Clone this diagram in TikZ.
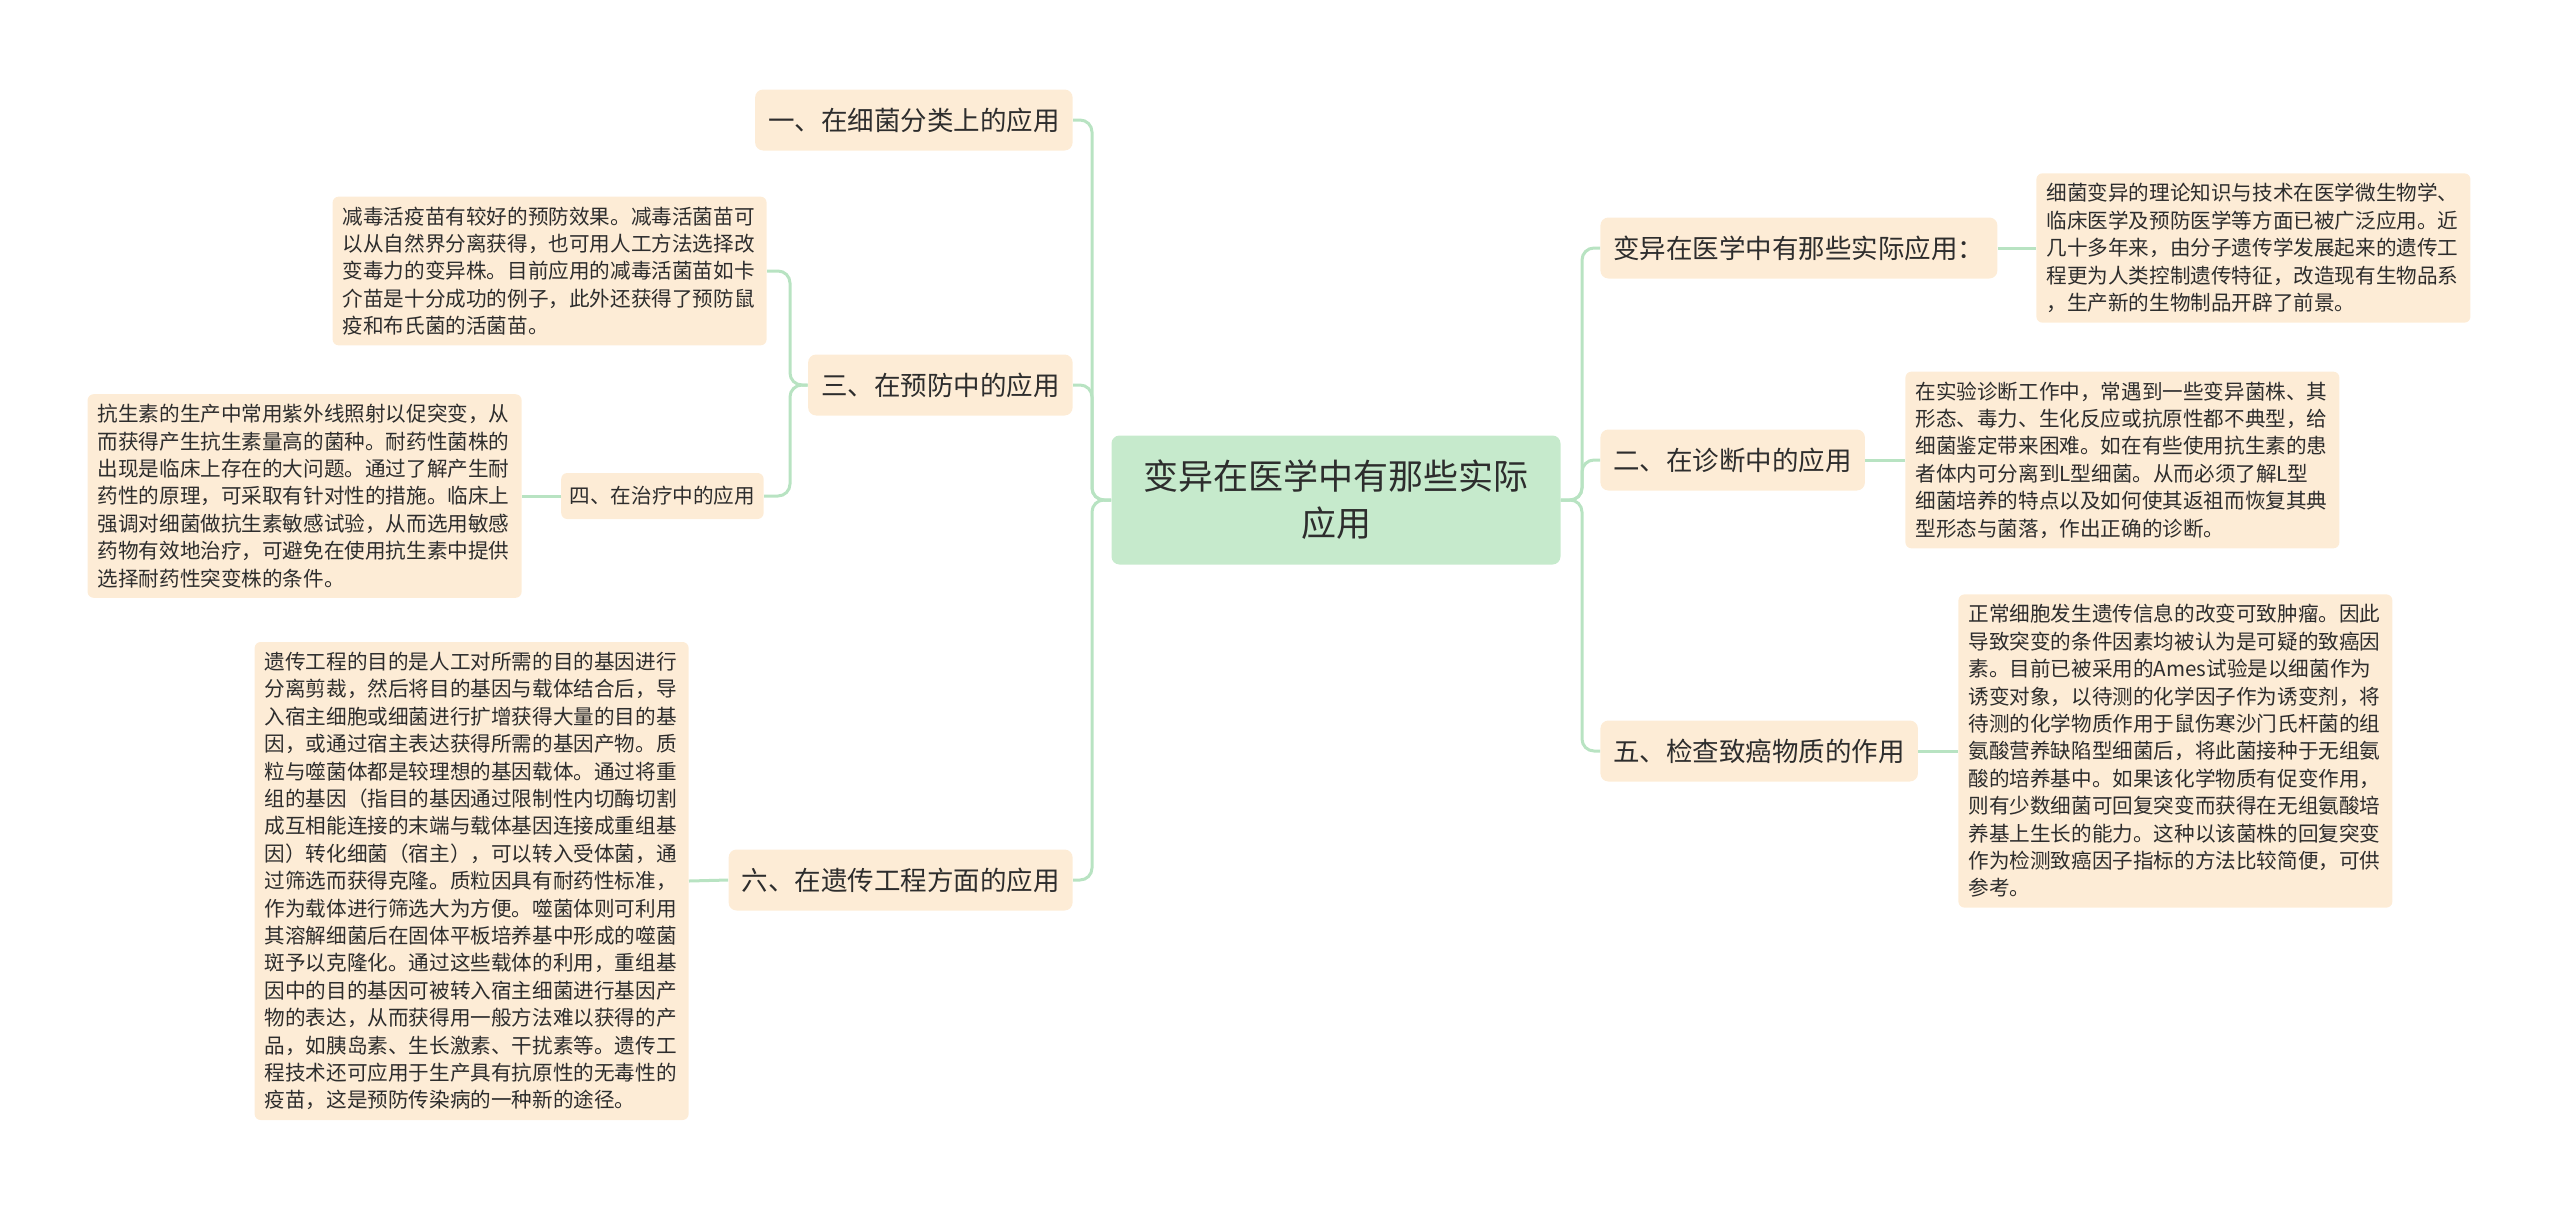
\documentclass[tikz,border=0pt]{standalone}
\usepackage{fontspec}
\setmainfont{Noto Sans CJK SC}
\definecolor{peach}{RGB}{253,236,214}
\definecolor{mint}{RGB}{198,234,204}
\definecolor{linkgreen}{RGB}{184,227,194}
\definecolor{ink}{RGB}{45,45,45}

\begin{document}
\begin{tikzpicture}[x=0.5pt,y=-0.5pt,
    link/.style={line width=1.5pt,linkgreen,rounded corners=6pt},
    root/.style={fill=mint,rounded corners=4pt,text=ink,align=center,font=\fontsize{17.5}{23.5}\selectfont,minimum width=224.5pt,minimum height=64.5pt},
    topic/.style={fill=peach,rounded corners=4pt,text=ink,font=\fontsize{13.25}{16}\selectfont,inner xsep=6.5pt,minimum height=30.5pt},
    subtopic/.style={fill=peach,rounded corners=3pt,text=ink,font=\fontsize{10.3}{13.7}\selectfont,inner xsep=4.25pt,minimum height=23pt},
    leaf/.style={fill=peach,rounded corners=3pt,text=ink,align=left,text width=207pt,font=\fontsize{10.3}{13.7}\selectfont,inner xsep=5pt,inner ysep=5pt}]
    \path[use as bounding box] (0,0) rectangle (2560,1206);

    \node[root] (cen) at (1336,500) {变异在医学中有那些实际\\应用};
    \coordinate (ltrunk) at (1092,500);
    \coordinate (rtrunk) at (1582,500);

    % right side
    \node[topic,anchor=west] (r1) at (1600,248) {变异在医学中有那些实际应用：};
    \node[leaf,anchor=west] (r1leaf) at (2036,248) {细菌变异的理论知识与技术在医学微生物学、\\临床医学及预防医学等方面已被广泛应用。近\\几十多年来，由分子遗传学发展起来的遗传工\\程更为人类控制遗传特征，改造现有生物品系\\，生产新的生物制品开辟了前景。};
    \node[topic,anchor=west] (r2) at (1600,460) {二、在诊断中的应用};
    \node[leaf,anchor=west] (r2leaf) at (1905,460) {在实验诊断工作中，常遇到一些变异菌株、其\\形态、毒力、生化反应或抗原性都不典型，给\\细菌鉴定带来困难。如在有些使用抗生素的患\\者体内可分离到L型细菌。从而必须了解L型\\细菌培养的特点以及如何使其返祖而恢复其典\\型形态与菌落，作出正确的诊断。};
    \node[topic,anchor=west] (r5) at (1600,751) {五、检查致癌物质的作用};
    \node[leaf,anchor=west] (r5leaf) at (1958,751) {正常细胞发生遗传信息的改变可致肿瘤。因此\\导致突变的条件因素均被认为是可疑的致癌因\\素。目前已被采用的Ames试验是以细菌作为\\诱变对象，以待测的化学因子作为诱变剂，将\\待测的化学物质作用于鼠伤寒沙门氏杆菌的组\\氨酸营养缺陷型细菌后，将此菌接种于无组氨\\酸的培养基中。如果该化学物质有促变作用，\\则有少数细菌可回复突变而获得在无组氨酸培\\养基上生长的能力。这种以该菌株的回复突变\\作为检测致癌因子指标的方法比较简便，可供\\参考。};

    % left side
    \node[topic,anchor=east] (l1) at (1073,120) {一、在细菌分类上的应用};
    \node[topic,anchor=east] (l3) at (1073,385) {三、在预防中的应用};
    \coordinate (l3trunk) at (790,385);
    \node[leaf,anchor=east] (l3leaf) at (767,271) {减毒活疫苗有较好的预防效果。减毒活菌苗可\\以从自然界分离获得，也可用人工方法选择改\\变毒力的变异株。目前应用的减毒活菌苗如卡\\介苗是十分成功的例子，此外还获得了预防鼠\\疫和布氏菌的活菌苗。};
    \node[subtopic,anchor=east] (l4) at (764,496) {四、在治疗中的应用};
    \node[leaf,anchor=east] (l4leaf) at (522,496) {抗生素的生产中常用紫外线照射以促突变，从\\而获得产生抗生素量高的菌种。耐药性菌株的\\出现是临床上存在的大问题。通过了解产生耐\\药性的原理，可采取有针对性的措施。临床上\\强调对细菌做抗生素敏感试验，从而选用敏感\\药物有效地治疗，可避免在使用抗生素中提供\\选择耐药性突变株的条件。};
    \node[topic,anchor=east] (l6) at (1073,880) {六、在遗传工程方面的应用};
    \node[leaf,anchor=east] (l6leaf) at (689,881) {遗传工程的目的是人工对所需的目的基因进行\\分离剪裁，然后将目的基因与载体结合后，导\\入宿主细胞或细菌进行扩增获得大量的目的基\\因，或通过宿主表达获得所需的基因产物。质\\粒与噬菌体都是较理想的基因载体。通过将重\\组的基因（指目的基因通过限制性内切酶切割\\成互相能连接的末端与载体基因连接成重组基\\因）转化细菌（宿主），可以转入受体菌，通\\过筛选而获得克隆。质粒因具有耐药性标准，\\作为载体进行筛选大为方便。噬菌体则可利用\\其溶解细菌后在固体平板培养基中形成的噬菌\\斑予以克隆化。通过这些载体的利用，重组基\\因中的目的基因可被转入宿主细菌进行基因产\\物的表达，从而获得用一般方法难以获得的产\\品，如胰岛素、生长激素、干扰素等。遗传工\\程技术还可应用于生产具有抗原性的无毒性的\\疫苗，这是预防传染病的一种新的途径。};

    % connectors
    \foreach \n in {r1,r2,r5} {
        \draw[link] (cen.east) -- (rtrunk) |- (\n.west);
        \draw[link] (\n.east) -- (\n leaf.west);
    }
    \foreach \n in {l1,l3,l6} {
        \draw[link] (cen.west) -- (ltrunk) |- (\n.east);
    }
    \draw[link] (l3.west) -- (l3trunk) |- (l3leaf.east);
    \draw[link] (l3.west) -- (l3trunk) |- (l4.east);
    \draw[link] (l4.west) -- (l4leaf.east);
    \draw[link] (l6.west) -- (l6leaf.east);
\end{tikzpicture}
\end{document}
